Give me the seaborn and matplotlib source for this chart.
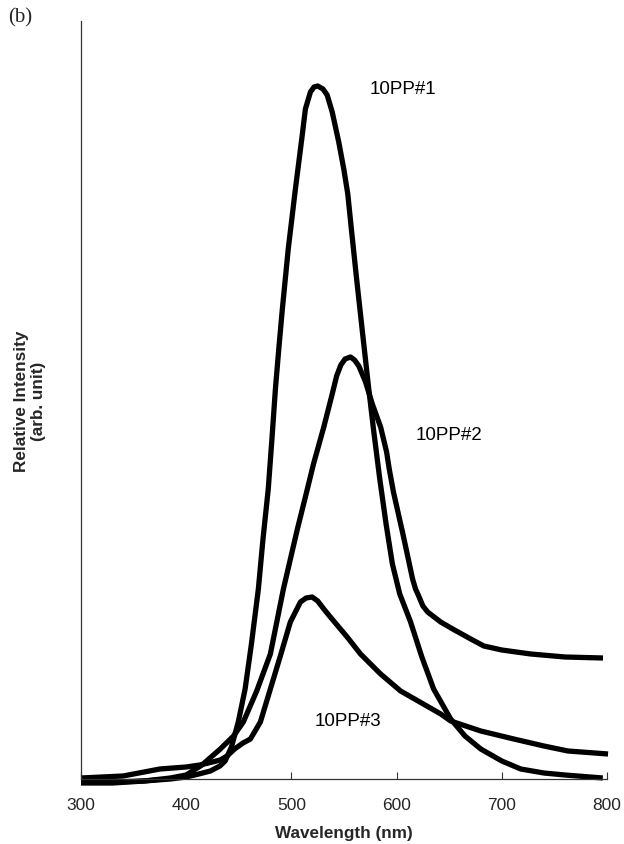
import matplotlib
matplotlib.use("Agg")
import matplotlib.pyplot as plt
import seaborn as sns
import pandas as pd

# ---- data ----
wl_1 = [300, 330, 360, 385, 400, 412, 423, 432, 437, 443, 449.5, 456, 462, 468.6, 473, 478,
        481.5, 484.8, 488, 491.4, 497, 503.8, 510.2, 513.3, 518.1, 521.5, 525, 530, 534,
        538.8, 545, 549.8, 553.6, 557, 562, 567, 573, 578, 584, 590, 596, 603, 613.3,
        624, 635.2, 651.4, 665, 680, 700, 718, 740, 760, 796]
int_1 = [-3, -3, -2, 0, 2, 5, 8, 13, 18, 32, 57, 90, 135, 190, 240, 290,
         340, 390, 430, 470, 530, 590, 643, 670, 687, 692, 693, 690, 684,
         667, 637, 610, 585, 550, 500, 452, 395, 350, 300, 255, 215, 185, 157,
         122, 90, 60, 43, 30, 18, 10, 6, 4, 1]

wl_2 = [300, 330, 360, 385, 400, 415, 432.4, 445, 454.3, 467, 480, 492.4, 505.7, 514,
        521, 530.8, 538.8, 543, 547, 551, 556.2, 560, 564.1, 570.5, 576.9, 584.8,
        590.5, 593, 597, 606, 615.2, 618, 621, 625, 629.5, 641.9, 655, 670.5, 682.9,
        700, 727.6, 760, 796.2]
int_2 = [-4, -4, -2, 1, 4, 14, 30, 43, 57, 88, 125, 190, 250, 285,
         315, 352, 385, 403, 414, 420, 422, 419, 413, 397, 375, 352,
         327, 310, 287, 245, 200, 190, 183, 173, 167, 157, 149, 140, 133,
         129, 125, 122, 121]

wl_3 = [300, 340, 375, 400, 413, 425, 432.4, 438.8, 446, 454, 461, 470.5, 480, 489.5,
        499, 508.6, 514, 519.7, 525, 530.8, 537, 545, 553, 565.7, 584.8, 603.8, 642, 651.4,
        680, 711.4, 740, 762.9, 801]
int_3 = [1, 3, 10, 12, 14, 17, 19, 23, 30, 36, 40, 57, 90, 123,
         157, 177, 181, 182, 178, 170, 162, 152, 142, 125, 105, 88, 65, 58,
         48, 40, 33, 28, 25]

labels = ["10PP#1", "10PP#2", "10PP#3"]
label_pos = [(606.2, 690), (649.5, 344), (553.8, 58)]
xticks = [300, 400, 500, 600, 700, 800]

sns.set_theme(style="white")
plt.rcParams['font.family'] = ['Liberation Sans', 'DejaVu Sans']

fig = plt.figure(figsize=(6.24, 8.45), dpi=100)
ax = fig.add_axes([81/624, 1 - 780/845, (607 - 81)/624, (780 - 22)/845])

for wl, it in [(wl_1, int_1), (wl_2, int_2), (wl_3, int_3)]:
    df = pd.DataFrame({"wl": wl, "I": it})
    sns.lineplot(data=df, x="wl", y="I", ax=ax, color="black", linewidth=3.8,
                 sort=False, estimator=None, clip_on=False, solid_capstyle="butt",
                 solid_joinstyle="round")

for lab, (x, y) in zip(labels, label_pos):
    ax.text(x, y, lab, ha="center", va="center", fontsize=13.5, color="black")

ax.set_xlim(300, 800)
ax.set_ylim(0, 758)
ax.set_xticks(xticks)
ax.set_xticklabels([str(t) for t in xticks], fontsize=12.5)
ax.set_yticks([])
ax.tick_params(axis="x", direction="in", length=5, width=0.8, color="#333333", pad=13,
               bottom=True)
for side in ["top", "right"]:
    ax.spines[side].set_visible(False)
for side in ["left", "bottom"]:
    ax.spines[side].set_color("#333333")
    ax.spines[side].set_linewidth(0.9)

ax.set_xlabel("Wavelength (nm)", fontsize=12.3, fontweight="bold", labelpad=9)
ax.set_ylabel("Relative Intensity\n(arb. unit)", fontsize=12.3, fontweight="bold", labelpad=25,
              linespacing=1.15)

fig.text(20/624, 1 - 18/845, "(b)", ha="center", va="center", fontsize=15,
         family=["Liberation Serif", "DejaVu Serif"])

fig.savefig("out.png", dpi=100, facecolor="white")
